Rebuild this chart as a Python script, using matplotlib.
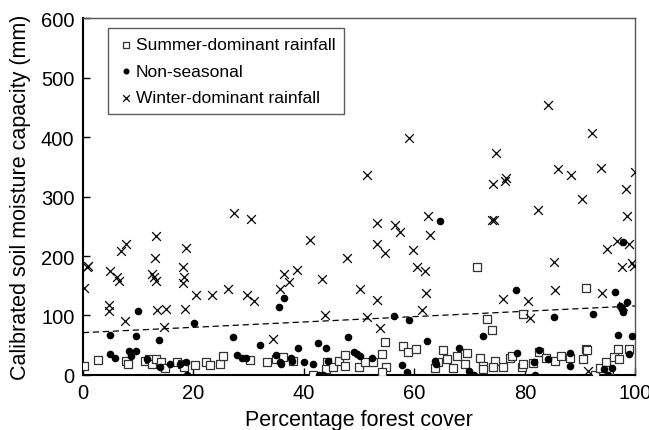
import numpy as np, matplotlib
matplotlib.use("Agg")
import matplotlib.pyplot as plt

plt.rcParams.update({"font.family": ["Liberation Sans", "DejaVu Sans"], "font.size": 14})

# summer-dominant rainfall (x = % forest cover, y = capacity mm)
summer_x = [0.2, 2.8, 7.9, 8.1, 11.3, 11.9, 12.5, 13.2, 14.1, 14.9, 17.0, 17.9, 18.3, 20.3, 22.3, 23.1,
            24.8, 25.3, 30.3, 33.4, 35.0, 36.2, 38.1, 41.7, 44.1, 44.0, 45.3, 46.4, 47.5, 47.5, 49.9, 51.1,
            52.6, 54.1, 54.6, 54.9, 54.1, 57.9, 58.9, 60.3, 63.7, 64.2, 65.1, 65.9, 66.9, 67.7, 69.5, 69.2,
            71.4, 71.8, 72.5, 72.5, 73.1, 74.0, 74.6, 74.3, 76.1, 77.3, 77.6, 79.4, 79.7, 79.6, 81.4, 82.6,
            83.8, 85.5, 86.5, 88.2, 90.5, 91.0, 91.2, 91.0, 92.7, 93.5, 94.7, 95.3, 96.1, 96.8, 97.1, 98.9]
summer_y = [15, 25, 24, 18, 24, 26, 18, 26, 22, 11, 22, 18, 14, 17, 22, 17,
            18, 31, 25, 21, 27, 30, 24, 0, 21, 10, 14, 24, 33, 15, 13, 21,
            21, 35, 55, 14, 4, 48, 39, 43, 12, 21, 42, 26, 11, 31, 36, 18,
            182, 28, 15, 10, 94, 75, 23, 13, 13, 29, 32, 14, 18, 103, 20, 39,
            28, 23, 31, 28, 26, 43, 42, 146, 0, 12, 21, 8, 30, 43, 26, 43]

nonseas_x = [5.0, 5.0, 5.8, 8.4, 8.8, 9.6, 9.6, 9.9, 11.6, 13.7, 14.0, 15.8, 17.6, 18.7, 18.8, 20.1,
             27.1, 27.9, 28.8, 29.5, 32.1, 35.0, 35.5, 36.4, 35.7, 35.8, 37.6, 37.8, 39.0, 40.0, 41.7, 42.6,
             42.8, 43.5, 44.0, 44.4, 47.9, 49.1, 49.6, 50.2, 52.3, 56.3, 57.7, 58.6, 59.1, 62.2, 63.7, 64.0,
             64.6, 68.0, 69.8, 70.8, 72.4, 78.3, 78.5, 81.7, 81.8, 82.6, 84.1, 85.2, 88.1, 88.1, 92.4, 94.3,
             95.0, 95.7, 96.3, 96.9, 97.2, 97.5, 97.7, 97.8, 98.4, 98.9, 99.3]
nonseas_y = [67, 35, 29, 40, 32, 40, 66, 107, 26, 58, 13, 19, 18, 22, 0, 88,
             64, 34, 29, 28, 50, 33, 115, 129, 22, 18, 29, 24, 46, 22, 18, 54,
             0, 0, 45, 23, 64, 39, 35, 31, 28, 99, 16, 4, 92, 57, 24, 19,
             259, 46, 7, 0, 65, 142, 37, 22, 0, 42, 26, 98, 36, 15, 102, 9,
             0, 12, 139, 67, 116, 110, 105, 224, 122, 35, 65]

winter_x = [0.2, 0.7, 1.0, 5.0, 4.8, 4.8, 6.2, 6.6, 7.0, 7.8, 7.6, 12.5, 13.2, 13.1, 12.9, 13.2, 13.4,
            15.1, 14.7, 18.2, 18.3, 18.2, 18.7, 18.5, 20.5, 23.3, 26.3, 27.4, 29.8, 30.4, 30.9, 34.4,
            35.6, 36.4, 37.4, 38.7, 41.1, 43.2, 43.8, 47.8, 50.2, 51.5, 51.5, 53.3, 53.3, 54.7, 53.2, 53.7,
            56.5, 57.4, 59.1, 59.8, 60.4, 61.9, 62.1, 61.4, 62.4, 62.8, 74.1, 74.4, 74.3, 74.7, 76.6, 76.4,
            76.1, 80.5, 81.0, 82.3, 84.1, 85.3, 85.5, 85.9, 88.3, 90.4, 91.5, 92.2, 93.7, 93.9, 94.8, 96.6,
            97.5, 97.7, 98.3, 98.4, 98.9, 99.3, 99.8, 99.9]
winter_y = [147, 182, 184, 174, 117, 108, 164, 158, 209, 220, 91, 169, 234, 196, 164, 158, 109,
            110, 81, 182, 164, 154, 213, 110, 134, 135, 144, 273, 134, 263, 124, 61,
            145, 169, 156, 177, 227, 161, 100, 196, 144, 336, 98, 256, 220, 205, 126, 79,
            253, 241, 399, 210, 181, 174, 137, 109, 267, 235, 261, 260, 321, 373, 332, 327,
            127, 125, 96, 278, 454, 190, 142, 346, 337, 296, 7, 407, 349, 138, 212, 226,
            181, 116, 312, 267, 220, 188, 184, 341]

trend_x = [0, 100]
trend_y = [71, 116]

fig = plt.figure(figsize=(6.49, 4.31), dpi=100)
ax = fig.add_axes([0.1276, 0.128, 0.8515, 0.827])
ax.scatter(summer_x, summer_y, marker="s", s=34, facecolors="white", edgecolors="#333333", linewidths=0.9,
           label="Summer-dominant rainfall", zorder=3)
ax.scatter(nonseas_x, nonseas_y, marker="o", s=20, color="black", label="Non-seasonal", zorder=4)
ax.scatter(winter_x, winter_y, marker="x", s=40, color="black", linewidths=0.9,
           label="Winter-dominant rainfall", zorder=3)
ax.plot(trend_x, trend_y, "--", color="black", lw=0.9, dashes=(5, 3), zorder=2)

ax.set_xlim(0, 100); ax.set_ylim(0, 600)
ax.set_xticks(range(0, 101, 20)); ax.set_yticks(range(0, 601, 100))
ax.tick_params(direction="in", length=5, width=1, labelsize=14.5, pad=6)
for s in ("left", "bottom"):
    ax.spines[s].set_linewidth(1.5); ax.spines[s].set_color("black")
for s in ("top", "right"):
    ax.spines[s].set_linewidth(1.0); ax.spines[s].set_color("#555555")
ax.set_xlabel("Percentage forest cover", fontsize=15.5, labelpad=5)
ax.set_ylabel("Calibrated soil moisture capacity (mm)", fontsize=15.5, labelpad=7)

leg = ax.legend(loc="upper left", bbox_to_anchor=(0.046, 0.972), borderaxespad=0, fontsize=12.5,
                fancybox=False, edgecolor="#333333", markerscale=0.75, handletextpad=0.1,
                handlelength=1.0, labelspacing=0.65, borderpad=0.5)
leg.get_frame().set_linewidth(1.0)
fig.savefig("out.png", dpi=100)
